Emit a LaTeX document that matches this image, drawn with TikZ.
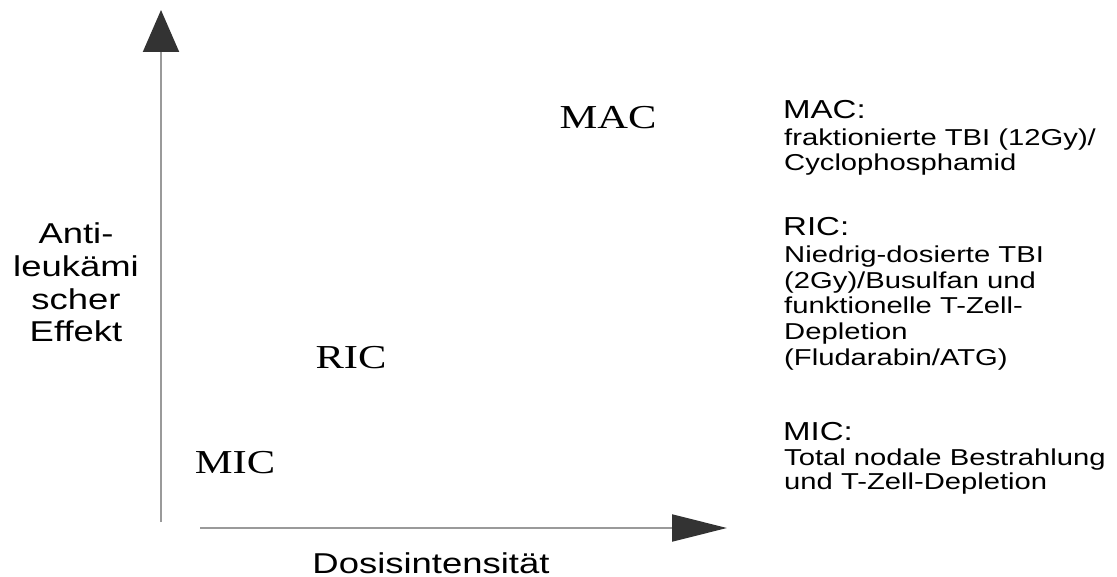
\documentclass[tikz,border=0pt]{standalone}
\usepackage{fontspec}
\setmainfont{Liberation Sans}
\newfontfamily\serifface{Liberation Serif}
\usetikzlibrary{arrows.meta}
\definecolor{axisgray}{HTML}{9A9A9A}
\definecolor{tipgray}{HTML}{333333}
\newcommand{\wide}[1]{\scalebox{1.27}[1]{#1}}
\tikzset{
  axisline/.style={draw=axisgray, line width=2pt},
  axislabel/.style={inner sep=0pt, anchor=base, font=\fontsize{28.7}{30}\selectfont},
  levellabel/.style={inner sep=0pt, anchor=base, font=\serifface\fontsize{33.5}{36}\selectfont},
  headlabel/.style={inner sep=0pt, anchor=base west, font=\fontsize{26}{28}\selectfont},
  bodyline/.style={inner sep=0pt, anchor=base west, font=\fontsize{23}{25}\selectfont},
}
\begin{document}
\begin{tikzpicture}[x=1pt,y=-1pt]
\useasboundingbox (0,0) rectangle (1117,577);
% axes
\coordinate (yb) at (161,522);
\coordinate (yt) at (161,10);
\coordinate (xl) at (200,528);
\coordinate (xr) at (727,528);
\draw[axisline, -{Triangle[length=42pt,width=36pt,color=tipgray,fill=tipgray]}] (yb) -- (yt);
\draw[axisline, -{Triangle[length=55pt,width=27pt,color=tipgray,fill=tipgray]}] (xl) -- (xr);
% axis labels
\node[axislabel] (y1) at (76,244) {\wide{Anti-}};
\node[axislabel] (y2) at (76,277) {\wide{leukämi}};
\node[axislabel] (y3) at (76,310) {\wide{scher}};
\node[axislabel] (y4) at (76,342) {\wide{Effekt}};
\node[axislabel] (xlab) at (431,573) {\wide{Dosisintensität}};
% levels
\node[levellabel] (mac) at (608,129) {\wide{MAC}};
\node[levellabel] (ric) at (351,369) {\wide{RIC}};
\node[levellabel] (mic) at (235,473) {\wide{MIC}};
% legend
\node[headlabel] (machead) at (783,119) {\wide{MAC:}};
\node[bodyline] (mac1) at (784,146) {\wide{fraktionierte TBI (12Gy)/}};
\node[bodyline] (mac2) at (784,171) {\wide{Cyclophosphamid}};
\node[headlabel] (richead) at (783,236) {\wide{RIC:}};
\node[bodyline] (ric1) at (784,263) {\wide{Niedrig-dosierte TBI}};
\node[bodyline] (ric2) at (784,289) {\wide{(2Gy)/Busulfan und}};
\node[bodyline] (ric3) at (784,314) {\wide{funktionelle T-Zell-}};
\node[bodyline] (ric4) at (784,340) {\wide{Depletion}};
\node[bodyline] (ric5) at (784,366) {\wide{(Fludarabin/ATG)}};
\node[headlabel] (michead) at (783,440) {\wide{MIC:}};
\node[bodyline] (mic1) at (784,465) {\wide{Total nodale Bestrahlung}};
\node[bodyline] (mic2) at (784,489) {\wide{und T-Zell-Depletion}};
\end{tikzpicture}
\end{document}
